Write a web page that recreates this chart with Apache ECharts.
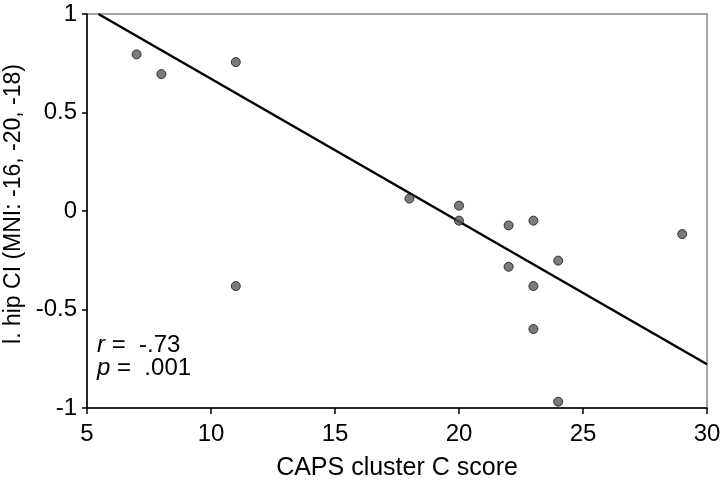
<!DOCTYPE html>
<html><head><meta charset="utf-8">
<script src="https://cdn.jsdelivr.net/npm/echarts@6/dist/echarts.min.js"></script>
<style>html,body{margin:0;padding:0;background:#fff}#c{width:720px;height:480px}</style>
</head><body><div id="c"></div>
<script>
var capsScore = [7, 8, 11, 11, 18, 20, 20, 22, 23, 29, 22, 24, 23, 23, 24];
var hipCI = [0.795, 0.695, 0.756, -0.381, 0.063, 0.027, -0.049, -0.073, -0.049, -0.117, -0.283, -0.252, -0.381, -0.599, -0.968];
var fitX = [5.46, 30];
var fitY = [1.0, -0.778];
var xTicks = [5, 10, 15, 20, 25, 30];
var yTicks = [-1, -0.5, 0, 0.5, 1];

var pts = capsScore.map(function(x, i){ return [x, hipCI[i]]; });
var fit = fitX.map(function(x, i){ return [x, fitY[i]]; });
var font = 'Liberation Sans, Arial, sans-serif';
var chart = echarts.init(document.getElementById('c'), null, {renderer:'canvas'});
var rich = {i:{fontStyle:'italic', fontFamily:font, fontSize:24, fill:'#000'}, n:{fontFamily:font, fontSize:24, fill:'#000'}};
chart.setOption({
  animation:false,
  backgroundColor:'#fff',
  grid:{left:87, right:13, top:14, bottom:72, containLabel:false, outerBoundsMode:'none',
    show:true, borderColor:'#888', borderWidth:1.5},
  xAxis:{type:'value', min:xTicks[0], max:xTicks[xTicks.length-1], interval:5,
    name:'CAPS cluster C score', nameLocation:'middle', nameGap:48,
    nameTextStyle:{fontFamily:font, fontSize:25, color:'#000'},
    axisLine:{onZero:false, lineStyle:{color:'#000', width:1.5}},
    axisTick:{length:6, lineStyle:{color:'#000', width:1.5}},
    axisLabel:{fontFamily:font, fontSize:24, color:'#000', margin:14},
    splitLine:{show:false}},
  yAxis:{type:'value', min:yTicks[0], max:yTicks[yTicks.length-1], interval:0.5,
    name:'l. hip CI (MNI: -16, -20, -18)', nameLocation:'middle', nameGap:50,
    nameTextStyle:{fontFamily:font, fontSize:23, color:'#000', padding:[0,0,0,14]},
    axisLine:{onZero:false, lineStyle:{color:'#000', width:1.5}},
    axisTick:{length:5, lineStyle:{color:'#000', width:1.5}},
    axisLabel:{fontFamily:font, fontSize:24, color:'#000', margin:10},
    splitLine:{show:false}},
  series:[
    {type:'line', data:fit, symbol:'none', clip:true,
     lineStyle:{color:'#000', width:2.5}, z:2},
    {type:'scatter', data:pts, symbol:'circle', symbolSize:9,
     itemStyle:{color:'#5a5a5a', borderColor:'#111', borderWidth:1}, z:3}
  ],
  graphic:[
    {type:'text', left:97, top:333, style:{rich:rich, text:'{i|r}{n| =  -.73}'}},
    {type:'text', left:97, top:356, style:{rich:rich, text:'{i|p}{n| =  .001}'}}
  ]
});
</script></body></html>
